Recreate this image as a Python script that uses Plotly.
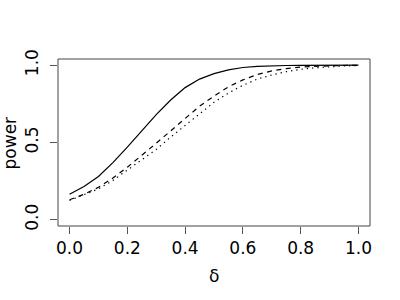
import plotly.graph_objects as go

delta = [0.00, 0.05, 0.10, 0.15, 0.20, 0.25, 0.30, 0.35, 0.40, 0.45, 0.50,
         0.55, 0.60, 0.65, 0.70, 0.75, 0.80, 0.85, 0.90, 0.95, 1.00]
power_solid = [0.165, 0.215, 0.28, 0.37, 0.47, 0.575, 0.68, 0.775, 0.855, 0.91, 0.945,
               0.97, 0.985, 0.992, 0.996, 0.998, 0.999, 1.0, 1.0, 1.0, 1.0]
power_dashed = [0.13, 0.165, 0.21, 0.27, 0.34, 0.415, 0.495, 0.575, 0.655, 0.735, 0.80,
                0.86, 0.905, 0.94, 0.963, 0.978, 0.988, 0.993, 0.996, 0.998, 0.999]
power_dotted = [0.125, 0.16, 0.20, 0.255, 0.32, 0.385, 0.455, 0.535, 0.61, 0.69, 0.76,
                0.82, 0.87, 0.91, 0.937, 0.958, 0.973, 0.983, 0.99, 0.995, 0.998]
x_ticks = [0.0, 0.2, 0.4, 0.6, 0.8, 1.0]
x_tick_labels = ["0.0", "0.2", "0.4", "0.6", "0.8", "1.0"]
y_ticks = [0.0, 0.5, 1.0]
y_tick_labels = ["0.0", "0.5", "1.0"]

FONT = "DejaVu Sans"
fig = go.Figure()
for ys, dash in [(power_solid, "solid"), (power_dashed, "5px,4.5px"), (power_dotted, "1.3px,4px")]:
    fig.add_trace(go.Scatter(x=delta, y=ys, mode="lines",
                             line=dict(color="black", width=1.2, dash=dash),
                             showlegend=False, hoverinfo="skip"))

fig.update_layout(
    width=400, height=300,
    margin=dict(l=58, r=30, t=59, b=74, autoexpand=False),
    paper_bgcolor="white", plot_bgcolor="white",
    font=dict(family=FONT, size=17, color="black"),
    xaxis=dict(range=[-0.04, 1.04], tickvals=x_ticks, ticktext=x_tick_labels,
               ticks="outside", ticklen=7, tickcolor="#555", showgrid=False,
               zeroline=False, showline=False, tickfont=dict(size=17)),
    yaxis=dict(range=[-0.04, 1.04], tickvals=y_ticks, ticktext=y_tick_labels,
               ticks="outside", ticklen=7, tickcolor="#555", showgrid=False,
               zeroline=False, showline=False, tickangle=-90, tickfont=dict(size=17),
               ticklabelstandoff=5),
    shapes=[dict(type="rect", xref="paper", yref="paper", x0=0, y0=0, x1=1, y1=1,
                 line=dict(color="#444", width=1))],
    annotations=[
        dict(text="δ", xref="paper", yref="paper", x=0.5, y=-0.3, yanchor="middle",
             showarrow=False, font=dict(size=17)),
        dict(text="power", xref="paper", yref="paper", x=-0.154, y=0.5, xanchor="center",
             yanchor="middle", textangle=-90, showarrow=False, font=dict(size=17)),
    ],
)
fig.write_html("out.html", config={"displayModeBar": False},
               post_script="document.body.style.margin='0px';")
